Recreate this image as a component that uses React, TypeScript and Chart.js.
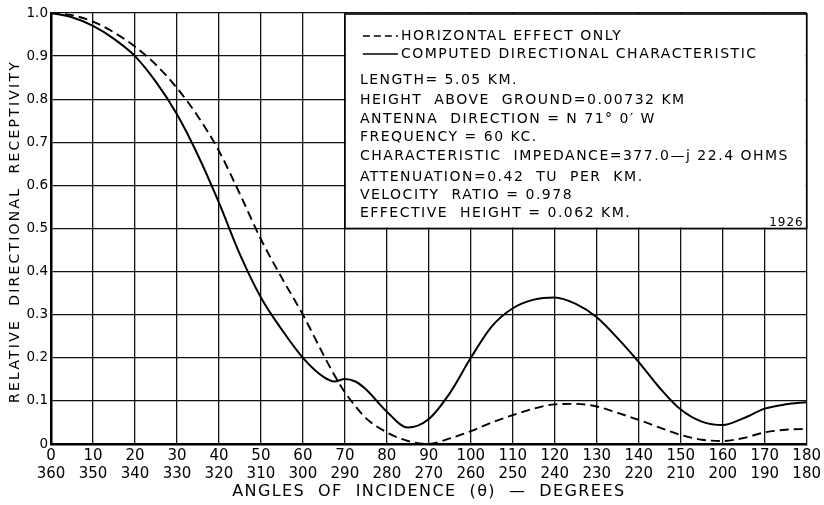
import React, { useEffect, useRef } from 'react';
import { Chart, registerables } from 'chart.js';

Chart.register(...registerables);

// ---- data ----
const angles = [0, 5, 10, 15, 20, 25, 30, 35, 40, 45, 50, 55, 60, 65, 67.5, 70, 72.5, 75, 80, 85, 90, 95, 100, 105, 110, 115, 120, 125, 130, 135, 140, 145, 150, 155, 160, 165, 170, 175, 180];
const computedDirectional = [1.0, 0.99, 0.97, 0.94, 0.9, 0.84, 0.765, 0.67, 0.56, 0.44, 0.34, 0.265, 0.2, 0.155, 0.145, 0.151, 0.145, 0.127, 0.075, 0.038, 0.058, 0.118, 0.2, 0.273, 0.315, 0.335, 0.34, 0.325, 0.294, 0.245, 0.19, 0.13, 0.08, 0.052, 0.044, 0.06, 0.082, 0.092, 0.097];
const horizontalEffectOnly = [1.0, 0.995, 0.98, 0.955, 0.922, 0.88, 0.826, 0.76, 0.68, 0.58, 0.475, 0.385, 0.3, 0.205, 0.16, 0.12, 0.088, 0.06, 0.027, 0.007, 0.0, 0.013, 0.03, 0.05, 0.067, 0.082, 0.092, 0.093, 0.087, 0.072, 0.056, 0.038, 0.021, 0.01, 0.007, 0.014, 0.027, 0.033, 0.035];

const xTickTop = ['0', '10', '20', '30', '40', '50', '60', '70', '80', '90', '100', '110', '120', '130', '140', '150', '160', '170', '180'];
const xTickBottom = ['360', '350', '340', '330', '320', '310', '300', '290', '280', '270', '260', '250', '240', '230', '220', '210', '200', '190', '180'];
const yTickLabels = ['0', '0.1', '0.2', '0.3', '0.4', '0.5', '0.6', '0.7', '0.8', '0.9', '1.0'];

const legendLabels = ['HORIZONTAL EFFECT ONLY', 'COMPUTED DIRECTIONAL CHARACTERISTIC'];
const noteLines = [
  'LENGTH= 5.05 KM.',
  'HEIGHT  ABOVE  GROUND=0.00732 KM',
  'ANTENNA  DIRECTION = N 71° 0′ W',
  'FREQUENCY = 60 KC.',
  'CHARACTERISTIC  IMPEDANCE=377.0—j 22.4 OHMS',
  'ATTENUATION=0.42  TU  PER  KM.',
  'VELOCITY  RATIO = 0.978',
  'EFFECTIVE  HEIGHT = 0.062 KM.',
];
const yearLabel = '1926';
const yAxisTitle = 'RELATIVE  DIRECTIONAL  RECEPTIVITY';
const xAxisTitle = 'ANGLES  OF  INCIDENCE  (θ)  —  DEGREES';

const FONT = '"DejaVu Sans", sans-serif';

const overlayPlugin = {
  id: 'overlay',
  afterDraw(chart: any) {
    const { ctx, scales, chartArea } = chart;
    const x = scales.x;
    const y = scales.y;
    ctx.save();
    // annotation box
    const l = x.getPixelForValue(70);
    const r = x.getPixelForValue(180);
    const t = y.getPixelForValue(1.0);
    const b = y.getPixelForValue(0.5);
    ctx.fillStyle = '#fff';
    ctx.fillRect(l + 1, t + 1, r - l - 2, b - t - 2);
    ctx.strokeStyle = '#000';
    ctx.lineWidth = 1.6;
    ctx.strokeRect(l, t + 1, r - l, b - t - 1);

    ctx.fillStyle = '#000';
    ctx.textBaseline = 'middle';
    ctx.textAlign = 'left';
    ctx.font = `14px ${FONT}`;
    (ctx as any).letterSpacing = '1.5px';

    // legend samples
    const sx0 = l + 18;
    const sx1 = l + 53;
    ctx.lineWidth = 1.6;
    ctx.strokeStyle = '#000';
    ctx.setLineDash([7, 4]);
    ctx.beginPath();
    ctx.moveTo(sx0, t + 23);
    ctx.lineTo(sx1, t + 23);
    ctx.stroke();
    ctx.setLineDash([]);
    ctx.beginPath();
    ctx.moveTo(sx0, t + 41);
    ctx.lineTo(sx1, t + 41);
    ctx.stroke();
    ctx.fillText(legendLabels[0], sx1 + 3, t + 23);
    ctx.fillText(legendLabels[1], sx1 + 3, t + 41);

    const rows = [67, 87, 106, 124, 143, 164, 182, 200];
    noteLines.forEach((s, i) => ctx.fillText(s, l + 15, t + rows[i]));

    ctx.font = `12px ${FONT}`;
    (ctx as any).letterSpacing = '1px';
    ctx.textAlign = 'right';
    ctx.fillText(yearLabel, r - 3, b - 6);

    // axis titles
    ctx.font = `16px ${FONT}`;
    (ctx as any).letterSpacing = '1.4px';
    ctx.textAlign = 'center';
    ctx.fillText(xAxisTitle, (chartArea.left + chartArea.right) / 2, 492);

    ctx.translate(15, (chartArea.top + chartArea.bottom) / 2 + 3);
    ctx.rotate(-Math.PI / 2);
    ctx.font = `14px ${FONT}`;
    (ctx as any).letterSpacing = '2.2px';
    ctx.fillText(yAxisTitle, 0, 0);
    ctx.restore();
  },
};

export default function App() {
  const ref = useRef<HTMLCanvasElement>(null);
  useEffect(() => {
    document.body.style.margin = '0';
    const canvas = ref.current!;
    const chart = new Chart(canvas, {
      type: 'line',
      data: {
        datasets: [
          {
            label: legendLabels[0],
            data: angles.map((a, i) => ({ x: a, y: horizontalEffectOnly[i] })),
            borderColor: '#000',
            borderWidth: 1.9,
            borderDash: [9, 5],
            pointRadius: 0,
            cubicInterpolationMode: 'monotone',
            fill: false,
          },
          {
            label: legendLabels[1],
            data: angles.map((a, i) => ({ x: a, y: computedDirectional[i] })),
            borderColor: '#000',
            borderWidth: 2,
            pointRadius: 0,
            cubicInterpolationMode: 'monotone',
            fill: false,
          },
        ],
      },
      options: {
        responsive: false,
        devicePixelRatio: 1,
        animation: false,
        layout: { padding: { left: 0, top: 13, right: 13, bottom: 0 } },
        plugins: { legend: { display: false }, tooltip: { enabled: false }, title: { display: false } },
        scales: {
          x: {
            type: 'linear',
            min: 0,
            max: 180,
            afterFit: (s: any) => { s.height = 61; },
            ticks: {
              stepSize: 10,
              autoSkip: false,
              maxRotation: 0,
              padding: 3,
              color: '#000',
              font: { family: FONT, size: 15, lineHeight: 1.2 },
              callback: (_v: any, i: number) => [xTickTop[i], xTickBottom[i]],
            },
            grid: { color: '#111', lineWidth: 1.3, drawTicks: false },
            border: { display: true, color: '#000', width: 2.5 },
          },
          y: {
            type: 'linear',
            min: 0,
            max: 1,
            afterFit: (s: any) => { s.width = 51; },
            ticks: {
              stepSize: 0.1,
              padding: 3,
              color: '#000',
              font: { family: FONT, size: 13.5 },
              callback: (_v: any, i: number) => yTickLabels[i],
            },
            grid: { color: '#111', lineWidth: 1.3, drawTicks: false },
            border: { display: true, color: '#000', width: 2.5 },
          },
        },
      },
      plugins: [overlayPlugin],
    } as any);
    return () => chart.destroy();
  }, []);
  return (
    <div style={{ width: 824, height: 505, background: '#fff' }}>
      <canvas ref={ref} width={824} height={505} />
    </div>
  );
}
